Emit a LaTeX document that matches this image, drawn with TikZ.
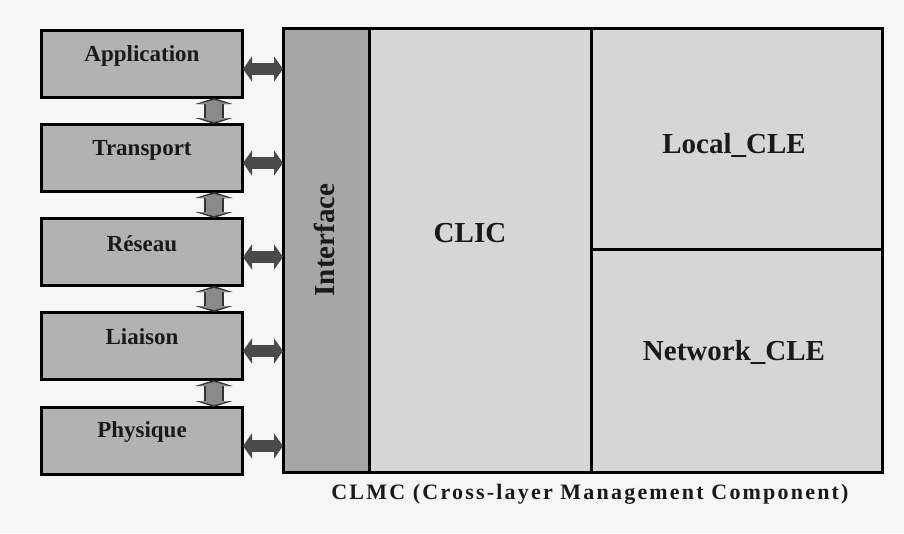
\documentclass[tikz,border=0pt]{standalone}
\usepackage{fontspec}
\setmainfont{Liberation Serif}
\usetikzlibrary{arrows.meta}
\definecolor{bgcol}{HTML}{F6F6F6}
\definecolor{layerfill}{HTML}{B2B2B2}
\definecolor{ifacefill}{HTML}{A6A6A6}
\definecolor{bigfill}{HTML}{D6D6D6}
\definecolor{harrowcol}{HTML}{4A4A4A}
\definecolor{varrowcol}{HTML}{8A8A8A}
\begin{document}
\begin{tikzpicture}[x=1pt,y=-1pt,
  layer/.style={draw=black, line width=3pt, fill=layerfill, minimum width=201pt, minimum height=67pt, anchor=north west, inner sep=0pt},
  laytext/.style={font=\bfseries\fontsize{23}{23}\selectfont, text=black!90},
  bigbox/.style={draw=black, line width=3pt, fill=bigfill, anchor=north west, inner sep=0pt},
  bigtext/.style={font=\bfseries\fontsize{29}{29}\selectfont, text=black!90},
  harrow/.style={draw=harrowcol, line width=12pt, {Triangle[length=9pt,width=25pt]}-{Triangle[length=9pt,width=25pt]}, shorten <=-1pt, shorten >=-1pt},
  varrowout/.style={draw=black!80, line width=20pt, {Triangle[length=6pt,width=37pt]}-{Triangle[length=6pt,width=37pt]}, shorten <=-1pt, shorten >=-1pt},
  varrow/.style={draw=varrowcol, line width=16pt, {Triangle[length=4pt,width=31pt]}-{Triangle[length=4pt,width=31pt]}, shorten <=1pt, shorten >=1pt}
]
\useasboundingbox (0,0) rectangle (904,533);
\fill[bgcol] (0,0) rectangle (904,533);

% big CLMC boxes
\node[bigbox, minimum width=222pt, minimum height=444pt] (clic) at (368,27) {};
\node[bigbox, minimum width=291pt, minimum height=221pt] (local) at (590,27) {};
\node[bigbox, minimum width=291pt, minimum height=223pt] (net) at (590,248) {};
\node[bigbox, fill=ifacefill, minimum width=86pt, minimum height=444pt] (iface) at (282,27) {};

\node[bigtext] (clict) at (470,233) {CLIC};
\node[bigtext] (localt) at (734,145) {Local\_CLE};
\node[bigtext] (nett) at (734,352) {Network\_CLE};
\node[bigtext, rotate=90] (ifacet) at (324,240) {Interface};

% layers
\node[layer] (app) at (40,29) {};
\node[layer] (tra) at (40,123) {};
\node[layer] (res) at (40,217) {};
\node[layer] (lia) at (40,311) {};
\node[layer] (phy) at (40,406) {};

\node[laytext] (appt) at ([yshift=8pt]app.center) {Application};
\node[laytext] (trat) at ([yshift=8pt]tra.center) {Transport};
\node[laytext] (rest) at ([yshift=8pt]res.center) {Réseau};
\node[laytext] (liat) at ([yshift=9pt]lia.center) {Liaison};
\node[laytext] (phyt) at ([yshift=9pt]phy.center) {Physique};

% horizontal arrows to interface
\foreach \n in {app,tra,res,lia,phy}{
  \draw[harrow] ([yshift=-5pt]\n.east) -- ([yshift=-5pt]\n.east -| iface.west);
}

% vertical arrows between layers
\foreach \a/\b in {app/tra,tra/res,res/lia,lia/phy}{
  \draw[varrowout] ([xshift=72pt]\a.south) -- ([xshift=72pt]\b.north);
  \draw[varrow] ([xshift=72pt]\a.south) -- ([xshift=72pt]\b.north);
}

\node[font=\bfseries\fontsize{22}{22}\selectfont\addfontfeature{LetterSpace=10}, text=black!90] (cap) at (590,494) {CLMC (Cross-layer Management Component)};
\end{tikzpicture}
\end{document}
